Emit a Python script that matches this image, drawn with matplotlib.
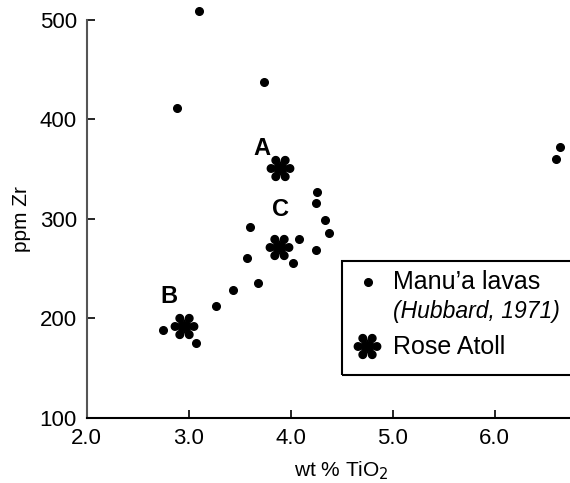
import matplotlib
matplotlib.use('Agg')
import matplotlib.pyplot as plt
import numpy as np
from matplotlib.path import Path
from matplotlib.patches import Rectangle

plt.rcParams['font.family'] = ['Liberation Sans', 'DejaVu Sans']

# Manu'a lavas (Hubbard, 1971)
manua_tio2 = [3.10, 3.74, 2.89, 4.26, 4.25, 4.34, 4.38, 3.60, 4.08, 4.25,
              3.57, 4.02, 3.68, 3.44, 3.27, 2.75, 3.07, 6.60, 6.64]
manua_zr = [509, 438, 412, 327, 316, 299, 286, 292, 280, 269,
            261, 256, 236, 229, 213, 188, 175, 360, 372]

# Rose Atoll samples
rose_labels = ['A', 'C', 'B']
rose_tio2 = [3.90, 3.89, 2.96]
rose_zr = [351, 272, 192]
label_offset = [(-0.18, 20), (0.01, 38), (-0.15, 30)]

x_ticks = [2.0, 3.0, 4.0, 5.0, 6.0]
y_ticks = [100, 200, 300, 400, 500]


def flower_marker(n=6, d=0.68, r=0.27):
    """Teardrop petals joined at the centre, like the printed asterisk"""
    verts, codes = [], []

    def add(pts):
        verts.extend(pts + [pts[0]])
        codes.extend([Path.MOVETO] + [Path.LINETO] * (len(pts) - 1) + [Path.CLOSEPOLY])

    alpha = np.arcsin(r / d)
    for k in range(n):
        a = np.pi / 2 + np.pi / n + k * 2 * np.pi / n
        cx, cy = d * np.cos(a), d * np.sin(a)
        th = np.linspace(a - np.pi / 2 - alpha, a + np.pi / 2 + alpha, 30)
        pts = [(0.0, 0.0)] + list(zip(cx + r * np.cos(th), cy + r * np.sin(th)))
        add(pts)
    t = np.linspace(0, 2 * np.pi, 24, endpoint=False)
    add(list(zip(0.16 * np.cos(t), 0.16 * np.sin(t))))
    return Path(verts, codes)


star = flower_marker()

fig = plt.figure(figsize=(5.70, 4.83), dpi=100)
ax = fig.add_axes([0.1518, 0.1346, 0.8482, 0.824])

ax.plot(manua_tio2, manua_zr, 'o', color='black', markersize=5.5, clip_on=False)
ax.plot(rose_tio2, rose_zr, linestyle='none', marker=star, color='black',
        markersize=19, clip_on=False)
for lab, x, y, (dx, dy) in zip(rose_labels, rose_tio2, rose_zr, label_offset):
    ax.text(x + dx, y + dy, lab, fontsize=17, fontweight='bold',
            ha='center', va='center')

ax.set_xlim(2.0, 6.74)
ax.set_ylim(100, 500)
ax.set_xticks(x_ticks)
ax.set_xticklabels(['%.1f' % v for v in x_ticks])
ax.set_yticks(y_ticks)
ax.tick_params(direction='in', length=6, width=1.2, labelsize=16, pad=7)
for s in ['top', 'right']:
    ax.spines[s].set_visible(False)
ax.spines['left'].set_color('#555555')
ax.spines['left'].set_linewidth(1.5)
ax.spines['bottom'].set_linewidth(1.5)

ax.set_xlabel('wt % TiO$_2$', fontsize=15)
ax.xaxis.set_label_coords(0.528, -0.103)
ax.set_ylabel('ppm Zr', fontsize=15, labelpad=6)

# legend box, cut by the right edge as in the original
fig.patches.append(Rectangle((0.5995, 0.2236), 0.5, 0.236, transform=fig.transFigure,
                             fill=False, edgecolor='black', linewidth=1.5))
fig.lines.append(plt.Line2D([0.645], [0.4155], marker='o', markersize=5.5,
                            color='black', transform=fig.transFigure))
fig.lines.append(plt.Line2D([0.644], [0.2843], marker=star, markersize=19,
                            color='black', transform=fig.transFigure))
fig.text(0.689, 0.4155, 'Manu\u2019a lavas', fontsize=18, va='center')
fig.text(0.689, 0.3547, '(Hubbard, 1971)', fontsize=16.5, style='italic', va='center')
fig.text(0.689, 0.2823, 'Rose Atoll', fontsize=18, va='center')

fig.savefig('out.png', dpi=100)
